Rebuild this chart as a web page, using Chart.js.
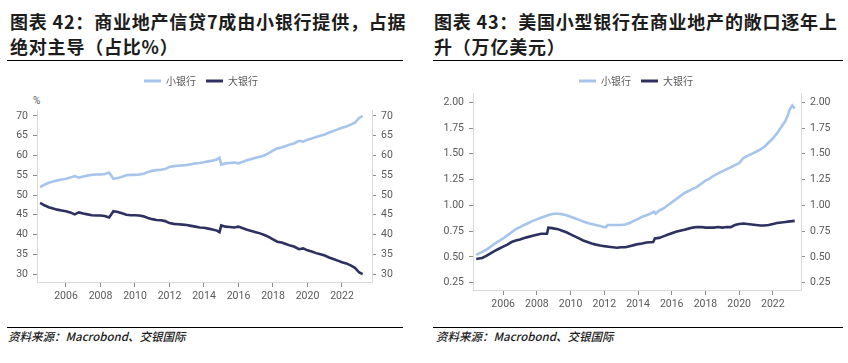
<!DOCTYPE html>
<html><head><meta charset="utf-8">
<script src="https://cdn.jsdelivr.net/npm/chart.js@4.4.1/dist/chart.umd.min.js"></script>
<style>
html,body{margin:0;padding:0;background:#fff;}
body{width:848px;height:363px;position:relative;overflow:hidden;font-family:"Noto Sans CJK SC","Noto Sans",sans-serif;}
.title{position:absolute;font-weight:700;font-size:18px;line-height:25px;letter-spacing:0.8px;color:#1c1c1c;white-space:nowrap;}
.rule{position:absolute;height:0;border-top:1.5px solid #000;}
.src{position:absolute;font-style:italic;font-weight:500;font-size:11.5px;line-height:14px;color:#1c1c1c;white-space:nowrap;}
.unit{position:absolute;font-family:Roboto,sans-serif;font-size:10px;color:#595959;}
canvas{position:absolute;}
</style></head><body>
<div class="title" style="left:10px;top:9px;">图表 42：商业地产信贷7成由小银行提供，占据<br>绝对主导（占比%）</div>
<div class="title" style="left:434px;top:9px;">图表 43：美国小型银行在商业地产的敞口逐年上<br>升（万亿美元）</div>
<div class="rule" style="left:7px;width:396px;top:60px;"></div>
<div class="rule" style="left:433px;width:410px;top:60px;"></div>
<div class="unit" style="left:33px;top:95px;">%</div>
<canvas id="c1" width="402" height="244" style="left:0;top:66px;"></canvas>
<canvas id="c2" width="424" height="252" style="left:424px;top:66px;"></canvas>
<div class="rule" style="left:7px;width:396px;top:327px;"></div>
<div class="rule" style="left:433px;width:410px;top:327px;"></div>
<div class="src" style="left:8px;top:329px;">资料来源：Macrobond、交银国际</div>
<div class="src" style="left:436px;top:329px;">资料来源：Macrobond、交银国际</div>
<script>
// ---- Data: chart 42 (share of CRE credit, %)
const shareYears = [2004.50,2004.75,2005.00,2005.25,2005.50,2005.75,2006.00,2006.25,2006.50,2006.75,2007.00,2007.25,2007.50,2007.75,2008.00,2008.25,2008.50,2008.75,2009.00,2009.25,2009.50,2009.75,2010.00,2010.25,2010.50,2010.75,2011.00,2011.25,2011.50,2011.75,2012.00,2012.25,2012.50,2012.75,2013.00,2013.25,2013.50,2013.75,2014.00,2014.25,2014.50,2014.75,2014.90,2015.00,2015.25,2015.50,2015.75,2016.00,2016.25,2016.50,2016.75,2017.00,2017.25,2017.50,2017.75,2018.00,2018.25,2018.50,2018.75,2019.00,2019.25,2019.50,2019.75,2020.00,2020.25,2020.50,2020.75,2021.00,2021.25,2021.50,2021.75,2022.00,2022.25,2022.50,2022.75,2023.00,2023.20];
const shareSmall = [52.0,52.6,53.1,53.4,53.7,53.9,54.1,54.4,54.8,54.4,54.7,54.9,55.1,55.2,55.2,55.3,55.7,54.1,54.3,54.6,55.0,55.1,55.1,55.2,55.4,55.8,56.1,56.3,56.4,56.6,57.1,57.3,57.4,57.5,57.6,57.8,58.0,58.1,58.3,58.5,58.7,59.0,59.4,57.7,58.0,58.1,58.2,58.0,58.4,58.8,59.1,59.4,59.7,60.0,60.6,61.2,61.8,62.0,62.4,62.8,63.1,63.7,63.5,64.0,64.3,64.7,65.0,65.3,65.8,66.2,66.6,67.0,67.3,67.8,68.3,69.5,70.0];
const shareLarge = [48.0,47.4,46.9,46.6,46.3,46.1,45.9,45.6,45.1,45.6,45.3,45.1,44.9,44.8,44.8,44.7,44.3,45.9,45.7,45.4,45.0,44.9,44.9,44.8,44.6,44.2,43.9,43.7,43.6,43.4,42.9,42.7,42.6,42.5,42.4,42.2,42.0,41.8,41.7,41.5,41.3,41.0,40.6,42.3,42.0,41.9,41.8,42.0,41.6,41.2,40.9,40.6,40.3,39.9,39.4,38.8,38.2,38.0,37.6,37.2,36.9,36.3,36.5,36.0,35.7,35.3,35.0,34.7,34.2,33.8,33.4,33.0,32.7,32.2,31.6,30.4,30.0];
const shareTicksY = [30,35,40,45,50,55,60,65,70];

// ---- Data: chart 43 (CRE exposure, USD trillion)
const expYearsSmall = [2004.40,2004.75,2005.00,2005.25,2005.50,2005.75,2006.00,2006.25,2006.50,2006.75,2007.00,2007.25,2007.50,2007.75,2008.00,2008.25,2008.50,2008.75,2009.00,2009.25,2009.50,2009.75,2010.00,2010.25,2010.50,2010.75,2011.00,2011.25,2011.50,2011.75,2012.00,2012.10,2012.20,2012.50,2012.75,2013.00,2013.25,2013.50,2013.75,2014.00,2014.25,2014.50,2014.75,2014.95,2015.05,2015.25,2015.50,2015.75,2016.00,2016.25,2016.50,2016.75,2017.00,2017.25,2017.50,2017.75,2018.00,2018.25,2018.50,2018.75,2019.00,2019.25,2019.50,2019.75,2020.00,2020.25,2020.50,2020.75,2021.00,2021.25,2021.50,2021.75,2022.00,2022.25,2022.50,2022.75,2022.90,2023.00,2023.15,2023.30];
const expSmall = [0.52,0.55,0.57,0.60,0.63,0.655,0.68,0.71,0.74,0.77,0.79,0.81,0.83,0.85,0.865,0.88,0.895,0.91,0.92,0.92,0.915,0.905,0.89,0.875,0.86,0.845,0.83,0.82,0.81,0.80,0.79,0.79,0.81,0.81,0.81,0.81,0.815,0.83,0.85,0.87,0.89,0.905,0.92,0.94,0.92,0.95,0.97,1.00,1.03,1.06,1.09,1.12,1.14,1.16,1.18,1.21,1.24,1.26,1.29,1.31,1.33,1.35,1.37,1.39,1.41,1.46,1.48,1.50,1.52,1.54,1.57,1.61,1.65,1.70,1.76,1.82,1.88,1.93,1.97,1.94];
const expYearsLarge = [2004.40,2004.75,2005.00,2005.25,2005.50,2005.75,2006.00,2006.25,2006.50,2006.75,2007.00,2007.25,2007.50,2007.75,2008.00,2008.25,2008.60,2008.68,2008.90,2009.25,2009.50,2009.75,2010.00,2010.25,2010.50,2010.75,2011.00,2011.25,2011.50,2011.75,2012.00,2012.25,2012.50,2012.75,2013.00,2013.25,2013.50,2013.75,2014.00,2014.25,2014.50,2014.90,2015.00,2015.25,2015.50,2015.75,2016.00,2016.25,2016.50,2016.75,2017.00,2017.25,2017.50,2017.75,2018.00,2018.25,2018.50,2018.75,2019.00,2019.25,2019.50,2019.75,2020.00,2020.25,2020.50,2020.75,2021.00,2021.25,2021.50,2021.75,2022.00,2022.25,2022.50,2022.75,2023.00,2023.30];
const expLarge = [0.48,0.49,0.51,0.535,0.56,0.58,0.60,0.62,0.645,0.66,0.67,0.685,0.695,0.705,0.715,0.725,0.725,0.785,0.78,0.77,0.755,0.74,0.72,0.70,0.68,0.66,0.645,0.63,0.62,0.612,0.605,0.60,0.595,0.59,0.595,0.595,0.605,0.615,0.625,0.63,0.64,0.645,0.68,0.685,0.70,0.715,0.73,0.745,0.755,0.765,0.775,0.785,0.79,0.79,0.785,0.785,0.785,0.79,0.785,0.79,0.79,0.81,0.82,0.825,0.82,0.815,0.81,0.805,0.805,0.81,0.82,0.83,0.835,0.84,0.845,0.85];
const expTicksY = [0.25,0.50,0.75,1.00,1.25,1.50,1.75,2.00];

const xTickYears = [2006,2008,2010,2012,2014,2016,2018,2020,2022];
const seriesNames = ['小银行','大银行'];
const colSmall = '#a7c4ec', colLarge = '#2c3160';

const pts = (xs, ys) => xs.map((x,i)=>({x:x, y:ys[i]}));
const tickFont = {family:'Roboto', size:10.5};
const tickColor = '#595959';

function legendHeight(h){
  return {id:'legendHeight', beforeInit(chart){
    const orig = chart.legend.fit;
    chart.legend.fit = function(){ orig.call(this); this.height = h; };
  }};
}

function yAxis(pos, min, max, ticksArr, w, fmt){
  return {
    type:'linear', position:pos, min:min, max:max,
    afterBuildTicks: s => { s.ticks = ticksArr.map(v=>({value:v})); },
    afterFit: s => { s.width = w; },
    grid:{display:true, drawOnChartArea:false, drawTicks:true, tickLength:4, color:'#8c8c8c'},
    border:{display:true, color:'#d9d9d9', width:1},
    ticks:{padding:5, color:tickColor, font:tickFont, callback: v => fmt(v)}
  };
}

function makeChart(id, cfg){
  new Chart(document.getElementById(id), {
    type:'line',
    data:{datasets:[
      {label:seriesNames[0], data:cfg.small, borderColor:colSmall, backgroundColor:colSmall, borderWidth:2.6, pointRadius:0, tension:0, fill:false, yAxisID:'y'},
      {label:seriesNames[1], data:cfg.large, borderColor:colLarge, backgroundColor:colLarge, borderWidth:2.6, pointRadius:0, tension:0, fill:false, yAxisID:'y'}
    ]},
    options:{
      responsive:false, animation:false, devicePixelRatio:1,
      layout:{padding:0},
      plugins:{
        tooltip:{enabled:false},
        legend:{display:true, position:'top', align:'center',
          labels:{boxWidth:17, boxHeight:3, padding:10, color:'#595959', font:{family:'Noto Sans CJK SC', size:10},
            generateLabels: ch => Chart.defaults.plugins.legend.labels.generateLabels(ch).map(l => Object.assign(l,{lineWidth:0}))}}
      },
      scales:{
        x:{type:'linear', min:cfg.xmin, max:cfg.xmax,
          afterBuildTicks: s => { s.ticks = xTickYears.map(v=>({value:v})); },
          afterFit: s => { s.height = 28; },
          grid:{display:true, drawOnChartArea:false, drawTicks:true, tickLength:5, color:'#8c8c8c'},
          border:{display:true, color:'#d9d9d9', width:1},
          ticks:{padding:3, maxRotation:0, autoSkip:false, color:tickColor, font:tickFont, callback: v => String(v)}
        },
        y: yAxis('left', cfg.ymin, cfg.ymax, cfg.yticks, cfg.wl, cfg.fmt),
        y2: yAxis('right', cfg.ymin, cfg.ymax, cfg.yticks, cfg.wr, cfg.fmt)
      }
    },
    plugins:[legendHeight(cfg.legendH)]
  });
}

makeChart('c1', {small:pts(shareYears, shareSmall), large:pts(shareYears, shareLarge),
  xmin:2004.32, xmax:2023.74, ymin:28, ymax:71.5, yticks:shareTicksY, wl:37, wr:30,
  fmt: v => String(v), legendH:44});
makeChart('c2', {small:pts(expYearsSmall, expSmall), large:pts(expYearsLarge, expLarge),
  xmin:2004.21, xmax:2023.67, ymin:0.18, ymax:2.09, yticks:expTicksY, wl:49, wr:47,
  fmt: v => v.toFixed(2), legendH:27});
</script>
</body></html>
